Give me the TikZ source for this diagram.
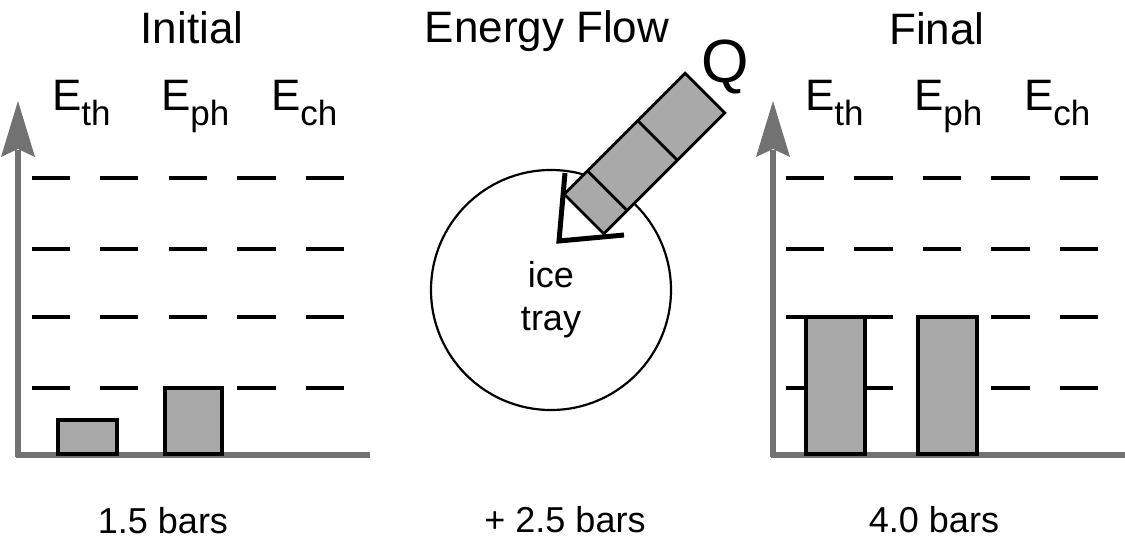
\documentclass[tikz,border=0pt]{standalone}
\usepackage{fontspec}
\setmainfont{Liberation Sans}
\definecolor{axisgray}{HTML}{727272}
\definecolor{barfill}{HTML}{A9A9A9}
\begin{document}
\begin{tikzpicture}[x=1pt,y=-1pt,
  txt/.style={inner sep=0pt,outer sep=0pt,font=\fontsize{44}{52}\selectfont},
  small/.style={inner sep=0pt,outer sep=0pt,font=\fontsize{36}{43}\selectfont},
  axisline/.style={draw=axisgray,line width=5.5pt},
  axishead/.style={fill=axisgray},
  level/.style={draw=black,line width=3.4pt},
  barbox/.style={draw=black,fill=barfill,line width=3.4pt},
  strip/.style={draw=black,fill=barfill,line width=2.8pt},
  tip/.style={draw=black,line width=5pt,line join=miter,line cap=butt},
  tray/.style={draw=black,line width=2.2pt}
]
\useasboundingbox (0,0) rectangle (1125,546);
\newcommand{\Elab}[1]{E\raisebox{-15pt}{\fontsize{35}{35}\selectfont #1}}

% titles
\node[txt,anchor=base] (tInit) at (192,43) {Initial};
\node[txt,anchor=base] (tFlow) at (547,42) {Energy Flow};
\node[txt,anchor=base] (tFinal) at (937,45) {Final};

% energy labels left
\node[txt,anchor=base west] (lth) at (52,110) {\Elab{th}};
\node[txt,anchor=base west] (lph) at (161,110) {\Elab{ph}};
\node[txt,anchor=base west] (lch) at (271,110) {\Elab{ch}};
% energy labels right
\node[txt,anchor=base west] (rth) at (805,110) {\Elab{th}};
\node[txt,anchor=base west] (rph) at (914,110) {\Elab{ph}};
\node[txt,anchor=base west] (rch) at (1024,110) {\Elab{ch}};

% level dashes
\foreach \yy in {178,249,317,388}{
  \foreach \xa/\xb in {32/70,100/138,169/207,237/276,306/344}{
    \draw[level] (\xa,\yy) -- (\xb,\yy);
  }
  \foreach \xa/\xb in {786/824,854/893,923/961,991/1030,1060/1098}{
    \draw[level] (\xa,\yy) -- (\xb,\yy);
  }
}

% axes left
\coordinate (lo) at (18,457);
\coordinate (ltop) at (18,150);
\coordinate (lend) at (370,455);
\draw[axisline] (lo) -- (ltop);
\draw[axisline] (16,455) -- (lend);
\fill[axishead] (18,101) -- (35,157) -- (18,149) -- (1,157) -- cycle;
% axes right
\coordinate (ro) at (773,457);
\coordinate (rtop) at (773,150);
\coordinate (rend) at (1125,455);
\draw[axisline] (ro) -- (rtop);
\draw[axisline] (771,455) -- (rend);
\fill[axishead] (773,101) -- (790,157) -- (773,149) -- (756,157) -- cycle;

% bars
\draw[barbox] (58,420) rectangle (117,454);
\draw[barbox] (165,388) rectangle (222,454);
\draw[barbox] (806,317) rectangle (865,454);
\draw[barbox] (918,317) rectangle (977,454);

% ice tray
\node[tray,circle,minimum size=240pt,inner sep=0pt] (icetray) at (551,290) {};
\node[small,anchor=base,font=\fontsize{36}{42}\selectfont] (ice) at (551,287) {ice};
\node[small,anchor=base,font=\fontsize{36}{42}\selectfont] (trayw) at (551,330) {tray};

% energy flow strip (2.5 bars)
\begin{scope}[shift={(584,214)},rotate=45]
  \draw[strip] (0,-28) rectangle (171,28);
  \draw[strip] (33,-28) -- (33,28);
  \draw[strip] (104,-28) -- (104,28);
\end{scope}
\draw[tip] (565,173) -- (559,241) -- (624,235);
\node[inner sep=0pt,anchor=base,font=\fontsize{61}{70}\selectfont] (Q) at (725,82) {Q};

% bottom labels
\node[small,anchor=base] (b1) at (163,533) {1.5 bars};
\node[small,anchor=base] (b2) at (565,532) {+ 2.5 bars};
\node[small,anchor=base] (b3) at (934,532) {4.0 bars};
\end{tikzpicture}
\end{document}
